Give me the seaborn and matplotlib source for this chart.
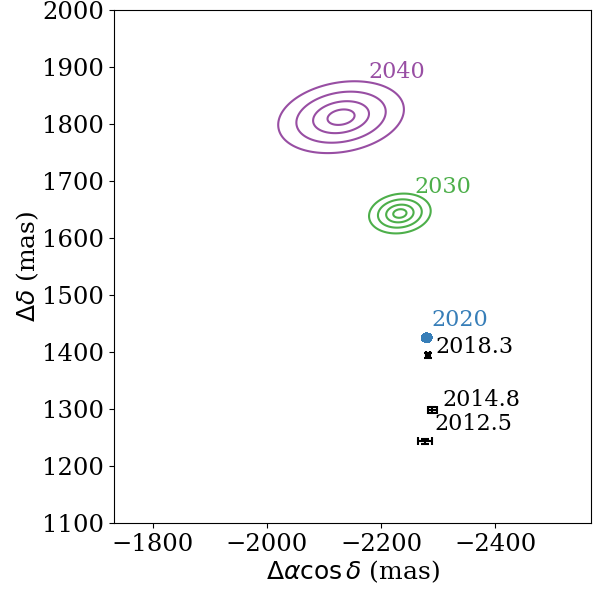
import numpy as np
import pandas as pd
import matplotlib
matplotlib.use("Agg")
import matplotlib.pyplot as plt
import seaborn as sns

# ---- data ----
obs_epochs = ["2012.5", "2014.8", "2018.3"]
obs_ra = [-2277, -2290, -2282]
obs_dec = [1243, 1298, 1394]
obs_ra_err = [13, 8, 4]
obs_dec_err = [5, 5, 4]

pred_epochs = ["2020", "2030", "2040"]
pred_ra = [-2280, -2233, -2130]
pred_dec = [1425, 1643, 1812]
pred_sig_major = [3.6, 20.5, 42]
pred_sig_minor = [3.2, 13, 23]
pred_angle_deg = [0, -8, -10]
pred_colors = ["#377eb8", "#4daf4a", "#984ea3"]
contour_levels = [0.03, 0.17, 0.5, 0.85]

label_ra = [-2288, -2259, -2178]
label_dec = [1446, 1679, 1880]
obs_label_ra = [-2294, -2308, -2295]
obs_label_dec = [1264, 1306, 1399]

xlim = (-1732, -2568)
ylim = (1100, 2000)
xticks = [-1800, -2000, -2200, -2400]
yticks = list(range(1100, 2001, 100))

sns.set_style("ticks")
plt.rcParams["font.family"] = ["DejaVu Serif"]
plt.rcParams["mathtext.fontset"] = "dejavusans"
plt.rcParams["axes.unicode_minus"] = True
for k in ["text.color", "axes.labelcolor", "xtick.color", "ytick.color", "axes.edgecolor"]:
    plt.rcParams[k] = "black"

fig = plt.figure(figsize=(6.02, 5.90), dpi=100)
ax = fig.add_axes([0.189, 0.1136, 0.793, 0.8694])

gx = np.linspace(-2600, -1700, 900)
gy = np.linspace(1080, 2020, 900)
X, Y = np.meshgrid(gx, gy)

for i, ep in enumerate(pred_epochs):
    th = np.deg2rad(pred_angle_deg[i])
    dx = X - pred_ra[i]
    dy = Y - pred_dec[i]
    u = dx * np.cos(th) + dy * np.sin(th)
    v = -dx * np.sin(th) + dy * np.cos(th)
    Z = np.exp(-0.5 * ((u / pred_sig_major[i]) ** 2 + (v / pred_sig_minor[i]) ** 2))
    if ep == "2020":
        ax.contourf(X, Y, Z, levels=[0.03, 1.01], colors=[pred_colors[i]])
    else:
        ax.contour(X, Y, Z, levels=contour_levels, colors=pred_colors[i], linewidths=1.5)
    ax.text(label_ra[i], label_dec[i], ep, color=pred_colors[i], fontsize=16,
            ha="left", va="baseline")

df = pd.DataFrame({"ra": obs_ra, "dec": obs_dec, "epoch": obs_epochs})
ax.errorbar(df["ra"], df["dec"], xerr=obs_ra_err, yerr=obs_dec_err, fmt="none",
            ecolor="black", elinewidth=1.5, capsize=3, capthick=1.5)
for i, ep in enumerate(obs_epochs):
    ax.text(obs_label_ra[i], obs_label_dec[i], ep, color="black", fontsize=16,
            ha="left", va="baseline")

ax.set_xlim(*xlim)
ax.set_ylim(*ylim)
ax.set_xticks(xticks)
ax.set_yticks(yticks)
ax.tick_params(labelsize=17.5, length=3.5, width=0.8, color="black")
for s in ax.spines.values():
    s.set_visible(True)
    s.set_color("black")
    s.set_linewidth(0.8)
ax.set_xlabel(r"$\Delta\alpha\cos\delta$ (mas)", fontsize=18, labelpad=2)
ax.set_ylabel(r"$\Delta\delta$ (mas)", fontsize=18, labelpad=1)

fig.savefig("out.png", dpi=100)
